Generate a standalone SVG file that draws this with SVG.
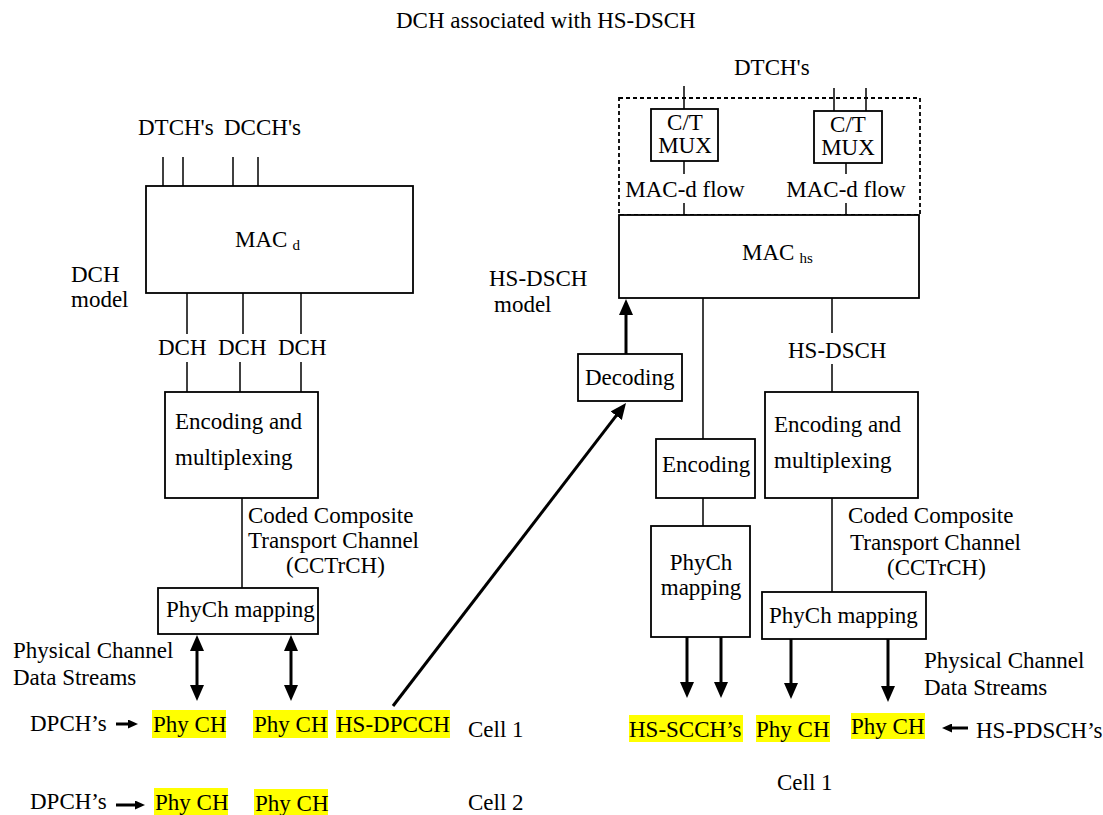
<svg xmlns="http://www.w3.org/2000/svg" width="1103" height="815" viewBox="0 0 1103 815">
<style>
  text { font-family: "Liberation Serif", "Times New Roman", serif; font-size: 23px; fill: #000; }
  .sub { font-size: 15px; }
  .box { fill: #fff; stroke: #000; stroke-width: 1.8; }
  .dash { fill: none; stroke: #000; stroke-width: 1.8; stroke-dasharray: 4 3; }
  .ln { stroke: #000; stroke-width: 1.5; fill: none; }
  .thick { stroke: #000; stroke-width: 3; fill: none; }
  .hl { fill: #FFFF00; stroke: none; }
  .mid { text-anchor: middle; }
</style>
<defs>
  <marker id="ah" markerUnits="userSpaceOnUse" markerWidth="16" markerHeight="14" refX="6" refY="7" orient="auto-start-reverse">
    <path d="M0,0 L16,7 L0,14 z" fill="#000"/>
  </marker>
  <marker id="ahs" markerUnits="userSpaceOnUse" markerWidth="10" markerHeight="9" refX="4" refY="4.5" orient="auto">
    <path d="M0,0 L10,4.5 L0,9 z" fill="#000"/>
  </marker>
</defs>
<rect width="1103" height="815" fill="#fff"/>

<text id="title" x="396" y="28">DCH associated with HS-DSCH</text>

<!-- Left: DCH model -->
<g id="dch-model-label">
  <text x="71" y="282">DCH</text>
  <text x="71" y="307">model</text>
</g>
<g id="logical-left">
  <text x="138" y="135">DTCH's</text>
  <text x="224" y="135">DCCH's</text>
</g>
<g id="mac-d">
  <rect class="box" x="146" y="186" width="267" height="107"/>
  <text x="235" y="247">MAC<tspan class="sub" dx="5" dy="3">d</tspan></text>
</g>
<g id="dch-labels">
  <text x="158" y="355">DCH</text>
  <text x="218" y="355">DCH</text>
  <text x="278" y="355">DCH</text>
</g>
<g id="enc-mux-left">
  <rect class="box" x="165" y="392" width="153" height="106"/>
  <text x="175" y="429">Encoding and</text>
  <text x="175" y="465">multiplexing</text>
</g>
<g id="cctrch-left">
  <text x="248" y="523">Coded Composite</text>
  <text x="248" y="548">Transport Channel</text>
  <text x="286" y="573">(CCTrCH)</text>
</g>
<g id="phych-left">
  <rect class="box" x="158" y="588" width="160" height="46"/>
  <text x="166" y="617">PhyCh mapping</text>
</g>
<g id="pcds-left">
  <text x="13" y="658">Physical Channel</text>
  <text x="13" y="685">Data Streams</text>
</g>
<g id="row1-left">
  <text x="30" y="731">DPCH’s</text>
  <rect class="hl" x="152" y="710" width="74" height="28"/>
  <text x="153" y="732">Phy CH</text>
  <rect class="hl" x="253" y="710" width="75" height="28"/>
  <text x="254" y="732">Phy CH</text>
  <rect class="hl" x="336" y="710" width="114" height="28"/>
  <text x="336" y="732">HS-DPCCH</text>
  <text x="468" y="737">Cell 1</text>
</g>
<g id="row2-left">
  <text x="30" y="809">DPCH’s</text>
  <rect class="hl" x="154" y="788" width="74" height="27"/>
  <text x="155" y="810">Phy CH</text>
  <rect class="hl" x="254" y="789" width="74" height="26"/>
  <text x="255" y="811">Phy CH</text>
  <text x="468" y="810">Cell 2</text>
</g>

<!-- Right: HS-DSCH model -->
<g id="hsdsch-model-label">
  <text x="489" y="286">HS-DSCH</text>
  <text x="494" y="312">model</text>
</g>
<g id="dtch-right">
  <text x="734" y="75">DTCH's</text>
</g>
<g id="dashed-group">
  <rect class="dash" x="619" y="98" width="301" height="117"/>
</g>
<g id="ctmux-1">
  <rect class="box" x="651" y="109" width="67" height="52"/>
  <text class="mid" x="685" y="130">C/T</text>
  <text class="mid" x="685" y="153">MUX</text>
</g>
<g id="ctmux-2">
  <rect class="box" x="814" y="111" width="68" height="52"/>
  <text class="mid" x="848" y="132">C/T</text>
  <text class="mid" x="848" y="155">MUX</text>
</g>
<g id="macd-flow-labels">
  <text class="mid" x="685" y="197">MAC-d flow</text>
  <text class="mid" x="846" y="197">MAC-d flow</text>
</g>
<g id="mac-hs">
  <rect class="box" x="619" y="215" width="300" height="83"/>
  <text x="742" y="260">MAC<tspan class="sub" dx="5" dy="3">hs</tspan></text>
</g>
<g id="decoding">
  <rect class="box" x="578" y="354" width="104" height="47"/>
  <text x="585" y="385">Decoding</text>
</g>
<g id="encoding">
  <rect class="box" x="656" y="439" width="99" height="59"/>
  <text x="662" y="472">Encoding</text>
</g>
<g id="phych-tall">
  <rect class="box" x="651" y="526" width="99" height="111"/>
  <text class="mid" x="701" y="570">PhyCh</text>
  <text class="mid" x="701" y="595">mapping</text>
</g>
<g id="hsdsch-label">
  <text x="788" y="358">HS-DSCH</text>
</g>
<g id="enc-mux-right">
  <rect class="box" x="765" y="392" width="153" height="106"/>
  <text x="774" y="432">Encoding and</text>
  <text x="774" y="468">multiplexing</text>
</g>
<g id="cctrch-right">
  <text x="848" y="523">Coded Composite</text>
  <text x="850" y="550">Transport Channel</text>
  <text x="887" y="575">(CCTrCH)</text>
</g>
<g id="phych-right">
  <rect class="box" x="762" y="592" width="164" height="47"/>
  <text x="769" y="623">PhyCh mapping</text>
</g>
<g id="pcds-right">
  <text x="924" y="668">Physical Channel</text>
  <text x="924" y="695">Data Streams</text>
</g>
<g id="row-right">
  <rect class="hl" x="629" y="715" width="114" height="27"/>
  <text x="629" y="737">HS-SCCH’s</text>
  <rect class="hl" x="756" y="715" width="74" height="27"/>
  <text x="756" y="737">Phy CH</text>
  <rect class="hl" x="851" y="713" width="74" height="26"/>
  <text x="851" y="734">Phy CH</text>
  <text x="976" y="738">HS-PDSCH’s</text>
  <text x="777" y="790">Cell 1</text>
</g>

<g id="connectors">
  <!-- left logical channels -->
  <line class="ln" x1="163" y1="157" x2="163" y2="186"/>
  <line class="ln" x1="183" y1="157" x2="183" y2="186"/>
  <line class="ln" x1="233" y1="157" x2="233" y2="186"/>
  <line class="ln" x1="258" y1="157" x2="258" y2="186"/>
  <!-- DCH stems -->
  <line class="ln" x1="187" y1="293" x2="187" y2="334"/>
  <line class="ln" x1="243" y1="293" x2="243" y2="334"/>
  <line class="ln" x1="301" y1="293" x2="301" y2="334"/>
  <line class="ln" x1="187" y1="362" x2="187" y2="392"/>
  <line class="ln" x1="240" y1="362" x2="240" y2="392"/>
  <line class="ln" x1="301" y1="362" x2="301" y2="392"/>
  <!-- CCTrCH left -->
  <line class="ln" x1="242" y1="498" x2="242" y2="588"/>
  <!-- double arrows left -->
  <line class="thick" x1="197" y1="645" x2="197" y2="691" marker-start="url(#ah)" marker-end="url(#ah)"/>
  <line class="thick" x1="291" y1="645" x2="291" y2="691" marker-start="url(#ah)" marker-end="url(#ah)"/>
  <!-- DPCH small arrows -->
  <line class="thick" x1="116" y1="724" x2="132" y2="724" marker-end="url(#ahs)"/>
  <line class="thick" x1="116" y1="805" x2="139" y2="805" marker-end="url(#ahs)"/>
  <!-- HS-DPCCH to Decoding -->
  <line class="thick" x1="393" y1="706" x2="619.9" y2="410.9" marker-end="url(#ah)"/>
  <!-- Decoding to MAC-hs -->
  <line class="thick" x1="626" y1="354" x2="626" y2="309" marker-end="url(#ah)"/>
  <!-- right DTCH lines -->
  <line class="ln" x1="684" y1="86" x2="684" y2="109"/>
  <line class="ln" x1="834" y1="88" x2="834" y2="111"/>
  <line class="ln" x1="866" y1="88" x2="866" y2="111"/>
  <line class="ln" x1="684" y1="161" x2="684" y2="174"/>
  <line class="ln" x1="684" y1="203" x2="684" y2="215"/>
  <line class="ln" x1="846" y1="163" x2="846" y2="174"/>
  <line class="ln" x1="846" y1="203" x2="846" y2="215"/>
  <!-- MAC-hs to Encoding / PhyCh -->
  <line class="ln" x1="703" y1="298" x2="703" y2="439"/>
  <line class="ln" x1="703" y1="498" x2="703" y2="526"/>
  <!-- HS-DSCH -->
  <line class="ln" x1="832" y1="298" x2="832" y2="333"/>
  <line class="ln" x1="832" y1="364" x2="832" y2="392"/>
  <line class="ln" x1="832" y1="498" x2="832" y2="592"/>
  <!-- right down arrows -->
  <line class="thick" x1="687" y1="637" x2="687" y2="688" marker-end="url(#ah)"/>
  <line class="thick" x1="721" y1="637" x2="721" y2="688" marker-end="url(#ah)"/>
  <line class="thick" x1="791" y1="639" x2="791" y2="689" marker-end="url(#ah)"/>
  <line class="thick" x1="888" y1="639" x2="888" y2="692" marker-end="url(#ah)"/>
  <!-- HS-PDSCH arrow -->
  <line class="thick" x1="968" y1="728" x2="948" y2="728" marker-end="url(#ahs)"/>
</g>
</svg>
